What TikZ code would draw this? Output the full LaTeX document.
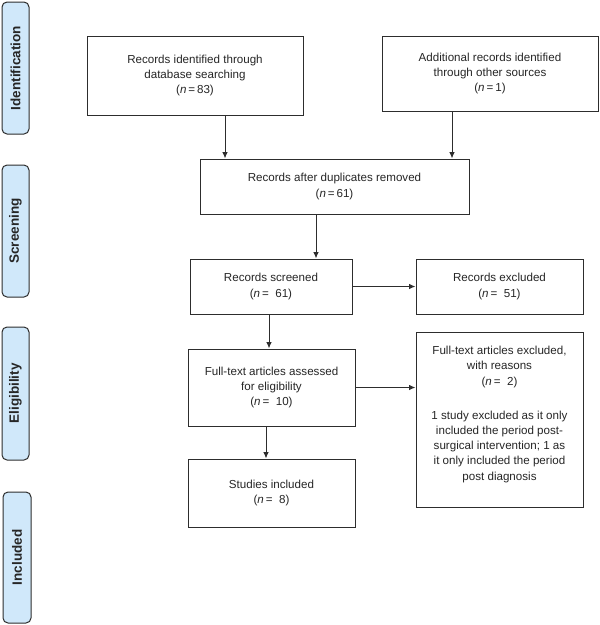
\documentclass[tikz,border=0pt]{standalone}
\usepackage{fontspec}
\setmainfont{Liberation Sans}
\usetikzlibrary{arrows.meta}
\definecolor{phasefill}{RGB}{208,232,250}
\definecolor{linegray}{RGB}{45,45,45}
\tikzset{
  box/.style={draw=linegray, line width=1pt, fill=white, align=center, inner sep=0pt,
    font=\fontsize{11.6}{15.2}\selectfont, text=black!85},
  phase/.style={draw=linegray, line width=1pt, fill=phasefill, rounded corners=5pt},
  phasetext/.style={rotate=90, font=\fontsize{13.5}{15}\selectfont\bfseries, text=black!85},
  arr/.style={draw=linegray, line width=1pt, -{Latex[length=6.5pt,width=5.5pt]}}
}
\newcommand{\nn}{\textit{n}}
\begin{document}
\begin{tikzpicture}[x=1pt,y=-1pt]
\useasboundingbox (0,0) rectangle (600,625);
% phase labels
\draw[phase] (2,2) rectangle (29,134);
\node[phasetext] (p1) at (15.5,68) {Identification};
\draw[phase] (2,165) rectangle (29,297);
\node[phasetext] (p2) at (15.5,231) {Screening};
\draw[phase] (2,327) rectangle (29,460);
\node[phasetext] (p3) at (15.5,393.5) {Eligibility};
\draw[phase] (3,492) rectangle (31,623);
\node[phasetext] (p4) at (17,557.5) {Included};
% boxes
\node[box, minimum width=216pt, minimum height=79pt] (a) at (195,75.5)
  {Records identified through\\database searching\\(\nn\,=\,83)};
\node[box, minimum width=216pt, minimum height=75pt] (b) at (490,73.5)
  {Additional records identified\\through other sources\\(\nn\,=\,1)};
\node[box, minimum width=269pt, minimum height=55pt] (c) at (334.5,186.5)
  {Records after duplicates removed\\(\nn\,=\,61)};
\node[box, minimum width=162pt, minimum height=55pt] (d) at (271,286.5)
  {Records screened\\(\nn\,=\ \ 61)};
\node[box, minimum width=167pt, minimum height=55pt] (e) at (499.5,286.5)
  {Records excluded\\(\nn\,=\ \ 51)};
\node[box, minimum width=167pt, minimum height=77pt] (f) at (271.5,387.5)
  {Full-text articles assessed\\for eligibility\\(\nn\,=\ \ 10)};
\node[box, minimum width=167pt, minimum height=175pt] (g) at (499.5,419.5) {};
\node[align=center, inner sep=0pt, anchor=north, font=\fontsize{11.6}{15.2}\selectfont, text=black!85] (gt) at (499.5,346)
  {Full-text articles excluded,\\with reasons\\(\nn\,=\ \ 2)\\[19pt]1 study excluded as it only\\included the period post-\\surgical intervention; 1 as\\it only included the period\\post diagnosis};
\node[box, minimum width=167pt, minimum height=68pt] (h) at (271.5,493)
  {Studies included\\(\nn\,=\ \ 8)};
% arrows
\draw[arr] (a.south -| 225,0) -- (c.north -| 225,0);
\draw[arr] (b.south -| 452,0) -- (c.north -| 452,0);
\draw[arr] (c.south -| 316,0) -- (d.north -| 316,0);
\draw[arr] (d.east) -- (e.west);
\draw[arr] (d.south -| 269,0) -- (f.north -| 269,0);
\draw[arr] (f.east) -- (f.east -| g.west);
\draw[arr] (f.south -| 266,0) -- (h.north -| 266,0);
\end{tikzpicture}
\end{document}
